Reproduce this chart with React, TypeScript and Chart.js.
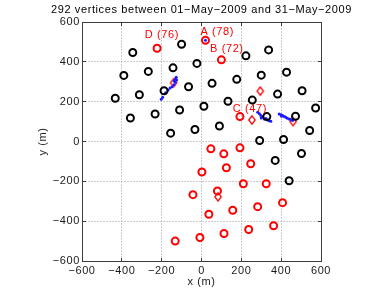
import React, { useEffect, useRef } from 'react';
import { Chart, registerables } from 'chart.js';

Chart.register(...registerables);

const TITLE = '292 vertices between 01\u2212May\u22122009 and 31\u2212May\u22122009';
const X_LABEL = 'x (m)';
const Y_LABEL = 'y (m)';
const AXIS_MIN = -600;
const AXIS_MAX = 600;
const AXIS_STEP = 200;

// black circles (other stations)
const blackX = [-100, -345, -23, -143, -390, -267, -65, -188, -312, -433, -110, -233, -357, -155, -33,
  337, 223, 427, 300, 177, 53, 505, 382, 255, 133, 12, 573, 328, 472, 90, 543, 292, 412, 502, 370, 440];
const blackY = [488, 447, 392, 370, 332, 352, 275, 255, 235, 217, 158, 138, 118, 42, 60,
  460, 430, 348, 333, 312, 292, 255, 238, 208, 202, 177, 168, 125, 127, 78, 55, 5, 10, -60, -95, -197];

// red circles (A, B, C, D and southern stations)
const redX = [20, 100, 193, -223,
  47, 193, 112, 247, 125, 2, 210, 325, -43, 80, 407, 282, 157, 37, 362, 237, 113, -8, -132];
const redY = [508, 410, 125, 468,
  -37, -32, -62, -112, -132, -153, -212, -212, -267, -248, -307, -327, -345, -365, -423, -442, -462, -482, -500];

// red diamonds
const diamondX = [-140, 295, 253, 460, 83];
const diamondY = [295, 253, 108, 100, -278];

// blue vertices
const blueX = [-127, -125, -132, -138, -148, -158, -168, -180, -195, -202, -138, -131,
  282, 291, 298, 306, 315, 324, 332, 340, 348, 300,
  390, 399, 407, 416, 423, 431, 440, 448, 457, 402,
  20];
const blueY = [322, 309, 298, 285, 275, 268, 258, 245, 222, 212, 305, 314,
  147, 139, 130, 124, 113, 116, 108, 104, 102, 118,
  138, 134, 130, 125, 122, 117, 113, 110, 105, 127,
  508];

// annotations
const markLabels = ['A (78)', 'B (72)', 'C (47)', 'D (76)'];
const markLabelX = [-5, 43, 157, -285];
const markLabelY = [551, 467, 163, 535];

const FONT = '"Liberation Sans", Arial, Helvetica, sans-serif';

const pts = (xs: number[], ys: number[]) => xs.map((x, i) => ({ x, y: ys[i] }));

function makeDiamond(): HTMLCanvasElement {
  const c = document.createElement('canvas');
  c.width = 10;
  c.height = 12;
  const g = c.getContext('2d')!;
  g.strokeStyle = '#ff0000';
  g.lineWidth = 1.3;
  g.beginPath();
  g.moveTo(5, 1.8);
  g.lineTo(8.2, 6);
  g.lineTo(5, 10.2);
  g.lineTo(1.8, 6);
  g.closePath();
  g.stroke();
  return c;
}

const framePlugin = {
  id: 'frame',
  beforeDraw(chart: any) {
    try { chart.ctx.letterSpacing = '0.6px'; } catch (e) { /* ignore */ }
  },
  beforeDatasetsDraw(chart: any) {
    const { ctx, chartArea, scales } = chart;
    const { left, right, top, bottom } = chartArea;
    const xs = scales.x;
    const ys = scales.y;
    const L = Math.floor(left) + 0.5;
    const R = Math.floor(right) + 0.5;
    const T = Math.floor(top) + 0.5;
    const B = Math.floor(bottom) + 0.5;
    ctx.save();
    ctx.lineWidth = 1;
    ctx.strokeStyle = '#9a9a9a';
    ctx.setLineDash([1, 2]);
    xs.ticks.forEach((t: any) => {
      const p = Math.floor(xs.getPixelForValue(t.value)) + 0.5;
      if (p > L + 1 && p < R - 1) {
        ctx.beginPath(); ctx.moveTo(p, T); ctx.lineTo(p, B); ctx.stroke();
      }
    });
    ys.ticks.forEach((t: any) => {
      const p = Math.floor(ys.getPixelForValue(t.value)) + 0.5;
      if (p > T + 1 && p < B - 1) {
        ctx.beginPath(); ctx.moveTo(L, p); ctx.lineTo(R, p); ctx.stroke();
      }
    });
    ctx.setLineDash([]);
    ctx.strokeStyle = '#3c3c3c';
    ctx.strokeRect(L, T, R - L, B - T);
    const tl = 3.5;
    xs.ticks.forEach((t: any) => {
      const p = Math.floor(xs.getPixelForValue(t.value)) + 0.5;
      ctx.beginPath();
      ctx.moveTo(p, B); ctx.lineTo(p, B - tl);
      ctx.moveTo(p, T); ctx.lineTo(p, T + tl);
      ctx.stroke();
    });
    ys.ticks.forEach((t: any) => {
      const p = Math.floor(ys.getPixelForValue(t.value)) + 0.5;
      ctx.beginPath();
      ctx.moveTo(L, p); ctx.lineTo(L + tl, p);
      ctx.moveTo(R, p); ctx.lineTo(R - tl, p);
      ctx.stroke();
    });
    ctx.restore();
  },
  afterDraw(chart: any) {
    const { ctx, chartArea, scales } = chart;
    const { left, right, top, bottom } = chartArea;
    ctx.save();
    try { ctx.letterSpacing = '0.6px'; } catch (e) { /* ignore */ }
    ctx.font = `11px ${FONT}`;
    ctx.textBaseline = 'middle';
    ctx.fillStyle = '#000000';
    ctx.textAlign = 'center';
    ctx.fillText(TITLE, (left + right) / 2, 10);
    ctx.fillStyle = '#1a1a1a';
    ctx.fillText(X_LABEL, (left + right) / 2, 282);
    ctx.save();
    ctx.translate(43, (top + bottom) / 2);
    ctx.rotate(-Math.PI / 2);
    ctx.fillText(Y_LABEL, 0, 0);
    ctx.restore();
    ctx.fillStyle = '#ff0000';
    ctx.textAlign = 'left';
    markLabels.forEach((s, i) => {
      ctx.fillText(s, scales.x.getPixelForValue(markLabelX[i]), scales.y.getPixelForValue(markLabelY[i]));
    });
    ctx.restore();
  },
};

const tickCb = (v: any) => String(v).replace('-', '\u2212');

export default function App() {
  const ref = useRef<HTMLCanvasElement | null>(null);
  useEffect(() => {
    if (!ref.current) return;
    const diamond = makeDiamond();
    const chart = new Chart(ref.current, {
      type: 'scatter',
      data: {
        datasets: [
          {
            data: pts(blackX, blackY),
            pointStyle: 'circle',
            pointRadius: 3.5,
            borderWidth: 2,
            borderColor: '#000000',
            backgroundColor: 'rgba(0,0,0,0)',
          },
          {
            data: pts(redX, redY),
            pointStyle: 'circle',
            pointRadius: 3.5,
            borderWidth: 2,
            borderColor: '#ff0000',
            backgroundColor: 'rgba(0,0,0,0)',
          },
          {
            data: pts(blueX, blueY),
            pointStyle: 'circle',
            pointRadius: 1.5,
            borderWidth: 0,
            borderColor: '#0000ff',
            backgroundColor: '#1a1aff',
          },
          {
            data: pts(diamondX, diamondY),
            pointStyle: diamond as any,
            pointRadius: 5,
            borderColor: '#ff0000',
            backgroundColor: 'rgba(0,0,0,0)',
          },
        ],
      },
      options: {
        animation: false,
        responsive: false,
        maintainAspectRatio: false,
        devicePixelRatio: 1,
        events: [],
        layout: { padding: { left: 0, right: 70, top: 22, bottom: 0 } },
        plugins: {
          legend: { display: false },
          tooltip: { enabled: false },
          title: { display: false },
        },
        scales: {
          x: {
            type: 'linear',
            min: AXIS_MIN,
            max: AXIS_MAX,
            grid: { display: false, drawTicks: false },
            border: { display: false },
            ticks: {
              stepSize: AXIS_STEP,
              padding: 3,
              color: '#1a1a1a',
              font: { family: FONT, size: 11 },
              callback: tickCb,
              maxRotation: 0,
              autoSkip: false,
            },
            afterFit: (s: any) => { s.height = 33; },
          },
          y: {
            type: 'linear',
            min: AXIS_MIN,
            max: AXIS_MAX,
            grid: { display: false, drawTicks: false },
            border: { display: false },
            ticks: {
              stepSize: AXIS_STEP,
              padding: 2,
              color: '#1a1a1a',
              font: { family: FONT, size: 11 },
              callback: tickCb,
              autoSkip: false,
            },
            afterFit: (s: any) => { s.width = 82; },
          },
        },
      },
      plugins: [framePlugin],
    } as any);
    return () => chart.destroy();
  }, []);
  return (
    <div style={{ position: 'absolute', left: 0, top: 0, width: 391, height: 294, background: '#ffffff' }}>
      <canvas ref={ref} width={391} height={294} style={{ display: 'block', width: 391, height: 294 }} />
    </div>
  );
}
